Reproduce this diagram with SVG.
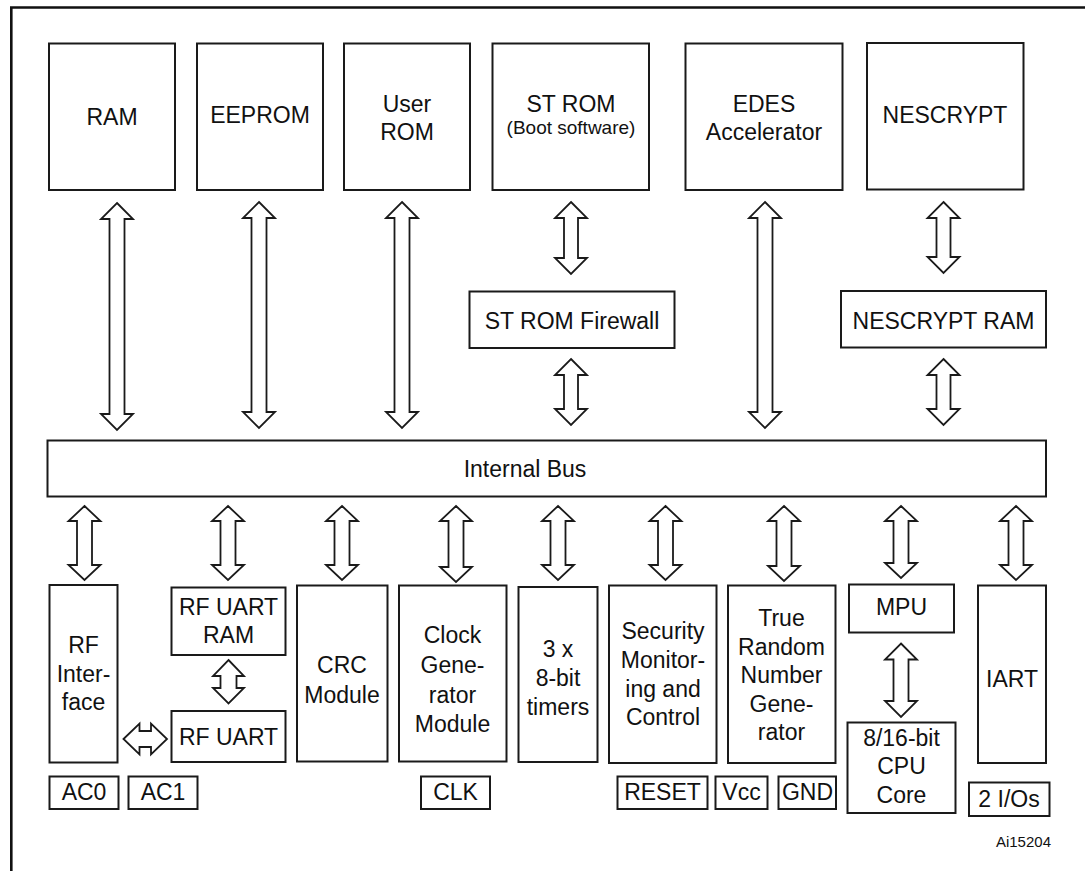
<svg xmlns="http://www.w3.org/2000/svg" width="1085" height="871" viewBox="0 0 1085 871">
<style>
.box{fill:#fff;stroke:#1a1a1a;stroke-width:2}
.arr{fill:#fff;stroke:#1a1a1a;stroke-width:1.8;stroke-linejoin:miter}
text{font-family:"Liberation Sans",Arial,Helvetica,sans-serif;font-size:23px;fill:#111;text-anchor:middle}
.sm{font-size:19px}
.ref{font-size:15px;text-anchor:end}
</style>
<rect x="0" y="0" width="1085" height="871" fill="#fff"/>
<path d="M11.3,871 V7.5 H1085" fill="none" stroke="#111" stroke-width="2.6"/>

<g id="ram"><rect class="box" x="49" y="43.5" width="126" height="146.5"/><text x="112" y="125">RAM</text></g>
<g id="eeprom"><rect class="box" x="197" y="43.5" width="126" height="146.5"/><text x="260" y="123">EEPROM</text></g>
<g id="userrom"><rect class="box" x="344" y="43.5" width="126" height="146.5"/><text x="407" y="112">User</text><text x="407" y="140">ROM</text></g>
<g id="strom"><rect class="box" x="492.5" y="43.5" width="156.5" height="146.5"/><text x="571" y="112">ST ROM</text><text class="sm" x="571" y="134">(Boot software)</text></g>
<g id="edes"><rect class="box" x="685.5" y="43.5" width="157" height="146.5"/><text x="764" y="112">EDES</text><text x="764" y="140">Accelerator</text></g>
<g id="nescrypt"><rect class="box" x="867" y="43" width="156.5" height="146.5"/><text x="945" y="123">NESCRYPT</text></g>

<g id="stromfw"><rect class="box" x="469.5" y="291.5" width="205" height="56.5"/><text x="572" y="329">ST ROM Firewall</text></g>
<g id="nescryptram"><rect class="box" x="841" y="291" width="205" height="56.5"/><text x="943.5" y="329">NESCRYPT RAM</text></g>

<g id="bus"><rect class="box" x="47.5" y="440.5" width="998.5" height="56"/><text x="525" y="477">Internal Bus</text></g>

<g id="rfif"><rect class="box" x="49.5" y="585" width="68" height="177.5"/><text x="83.5" y="653">RF</text><text x="83.5" y="682">Inter-</text><text x="83.5" y="710">face</text></g>
<g id="rfuartram"><rect class="box" x="171.5" y="587.5" width="114" height="67.5"/><text x="228.5" y="615">RF UART</text><text x="228.5" y="643">RAM</text></g>
<g id="rfuart"><rect class="box" x="171.5" y="711" width="114" height="51"/><text x="228.5" y="745">RF UART</text></g>
<g id="crc"><rect class="box" x="297" y="585.5" width="90.5" height="176"/><text x="342" y="673">CRC</text><text x="342" y="702.5">Module</text></g>
<g id="clkgen"><rect class="box" x="399" y="585.5" width="107.5" height="176"/><text x="452.5" y="643">Clock</text><text x="452.5" y="673">Gene-</text><text x="452.5" y="702.5">rator</text><text x="452.5" y="731.5">Module</text></g>
<g id="timers"><rect class="box" x="518.5" y="587" width="79" height="175"/><text x="558" y="656.5">3 x</text><text x="558" y="686">8-bit</text><text x="558" y="715">timers</text></g>
<g id="security"><rect class="box" x="609" y="585.5" width="107.5" height="177.5"/><text x="663" y="639">Security</text><text x="663" y="668">Monitor-</text><text x="663" y="696.5">ing and</text><text x="663" y="725">Control</text></g>
<g id="trng"><rect class="box" x="728" y="585.5" width="107.5" height="177.5"/><text x="781.5" y="625.5">True</text><text x="781.5" y="655">Random</text><text x="781.5" y="683">Number</text><text x="781.5" y="712">Gene-</text><text x="781.5" y="740">rator</text></g>
<g id="mpu"><rect class="box" x="849" y="584.5" width="105" height="48"/><text x="901.5" y="615">MPU</text></g>
<g id="cpu"><rect class="box" x="847.5" y="722.5" width="108" height="90.5"/><text x="901.5" y="745.5">8/16-bit</text><text x="901.5" y="773.5">CPU</text><text x="901.5" y="802.5">Core</text></g>
<g id="iart"><rect class="box" x="978" y="585.5" width="68" height="177.5"/><text x="1012" y="686.5">IART</text></g>

<g id="ac0"><rect class="box" x="49.5" y="776.5" width="69" height="32.5"/><text x="84" y="799.5">AC0</text></g>
<g id="ac1"><rect class="box" x="128.5" y="776.5" width="69" height="32.5"/><text x="163" y="799.5">AC1</text></g>
<g id="clk"><rect class="box" x="421" y="776.5" width="69" height="32.5"/><text x="455.5" y="799.5">CLK</text></g>
<g id="reset"><rect class="box" x="617.5" y="776.5" width="90" height="32.5"/><text x="662.5" y="799.5">RESET</text></g>
<g id="vcc"><rect class="box" x="715.5" y="776.5" width="52" height="32.5"/><text x="741.5" y="799.5">Vcc</text></g>
<g id="gnd"><rect class="box" x="778.5" y="776.5" width="57.5" height="32.5"/><text x="807.5" y="799.5">GND</text></g>
<g id="ios"><rect class="box" x="969" y="782.5" width="80.5" height="33.5"/><text x="1009" y="807">2 I/Os</text></g>

<text class="ref" x="1051" y="847">Ai15204</text>

<g id="connectors">
<path class="arr" d="M117,203 L133,219 L124.5,219 L124.5,414 L133,414 L117,430 L101,414 L109.5,414 L109.5,219 L101,219 Z"/>
<path class="arr" d="M259,202 L275,218 L266.5,218 L266.5,412 L275,412 L259,428 L243,412 L251.5,412 L251.5,218 L243,218 Z"/>
<path class="arr" d="M402,202 L418,218 L409.5,218 L409.5,412 L418,412 L402,428 L386,412 L394.5,412 L394.5,218 L386,218 Z"/>
<path class="arr" d="M765,202 L781,218 L772.5,218 L772.5,412 L781,412 L765,428 L749,412 L757.5,412 L757.5,218 L749,218 Z"/>
<path class="arr" d="M571,202 L587,218 L578,218 L578,258 L587,258 L571,274 L555,258 L564,258 L564,218 L555,218 Z"/>
<path class="arr" d="M571,359 L587,375 L578,375 L578,409 L587,409 L571,425 L555,409 L564,409 L564,375 L555,375 Z"/>
<path class="arr" d="M943.5,202 L959.5,218 L950.5,218 L950.5,257 L959.5,257 L943.5,273 L927.5,257 L936.5,257 L936.5,218 L927.5,218 Z"/>
<path class="arr" d="M943.5,359 L959.5,375 L950.5,375 L950.5,409 L959.5,409 L943.5,425 L927.5,409 L936.5,409 L936.5,375 L927.5,375 Z"/>
<g id="bottom-arrows">
<path class="arr" d="M84.5,506 L100.5,521 L92,521 L92,565 L100.5,565 L84.5,580 L68.5,565 L77,565 L77,521 L68.5,521 Z"/>
<path class="arr" d="M228,506 L244,521 L235.5,521 L235.5,565 L244,565 L228,580 L212,565 L220.5,565 L220.5,521 L212,521 Z"/>
<path class="arr" d="M342,506 L358,521 L349.5,521 L349.5,565 L358,565 L342,580 L326,565 L334.5,565 L334.5,521 L326,521 Z"/>
<path class="arr" d="M456,506 L472,521 L463.5,521 L463.5,567 L472,567 L456,582 L440,567 L448.5,567 L448.5,521 L440,521 Z"/>
<path class="arr" d="M558,506 L574,521 L565.5,521 L565.5,565 L574,565 L558,580 L542,565 L550.5,565 L550.5,521 L542,521 Z"/>
<path class="arr" d="M665.5,506 L681.5,521 L673,521 L673,565 L681.5,565 L665.5,580 L649.5,565 L658,565 L658,521 L649.5,521 Z"/>
<path class="arr" d="M784,506 L800,521 L791.5,521 L791.5,566 L800,566 L784,581 L768,566 L776.5,566 L776.5,521 L768,521 Z"/>
<path class="arr" d="M901,506 L917,521 L908.5,521 L908.5,563 L917,563 L901,578 L885,563 L893.5,563 L893.5,521 L885,521 Z"/>
<path class="arr" d="M1016,506 L1032,521 L1023.5,521 L1023.5,565 L1032,565 L1016,580 L1000,565 L1008.5,565 L1008.5,521 L1000,521 Z"/>
</g>
<path class="arr" d="M228.5,660 L244,676 L236.5,676 L236.5,688 L244,688 L228.5,703.5 L213,688 L220.5,688 L220.5,676 L213,676 Z"/>
<path class="arr" d="M901,643.5 L917,659.5 L908.5,659.5 L908.5,701 L917,701 L901,717 L885,701 L893.5,701 L893.5,659.5 L885,659.5 Z"/>
<path class="arr" d="M123.5,739 L139.5,723.5 L139.5,731 L151,731 L151,723.5 L167,739 L151,754.5 L151,747 L139.5,747 L139.5,754.5 Z"/>
</g>
</svg>
